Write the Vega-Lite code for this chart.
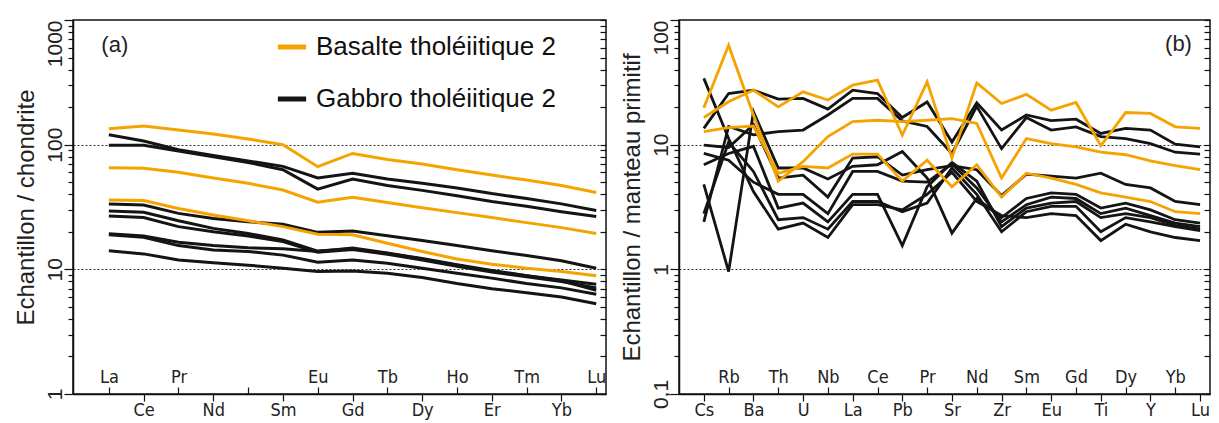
{
  "$schema": "https://vega.github.io/schema/vega-lite/v6.json",
  "background": "white",
  "padding": {"left": 13, "top": 18, "right": 2, "bottom": 2},
  "config": {
    "view": {"stroke": "#111", "strokeWidth": 1.5},
    "font": "Liberation Sans",
    "legend": {
      "orient": "none", "legendX": 202, "legendY": 10,
      "symbolType": "stroke", "symbolStrokeWidth": 5, "symbolSize": 800,
      "labelFontSize": 26, "labelColor": "#111", "rowPadding": 22, "labelOffset": 7, "labelLimit": 0
    }
  },
  "datasets": {
    "ree": [
      {"g":"B1","t":"Gabbro","i":0,"v":120},{"g":"B1","t":"Gabbro","i":1,"v":107},{"g":"B1","t":"Gabbro","i":2,"v":91},{"g":"B1","t":"Gabbro","i":3,"v":82},{"g":"B1","t":"Gabbro","i":4,"v":74},{"g":"B1","t":"Gabbro","i":5,"v":67},{"g":"B1","t":"Gabbro","i":6,"v":54},{"g":"B1","t":"Gabbro","i":7,"v":59},{"g":"B1","t":"Gabbro","i":8,"v":53},{"g":"B1","t":"Gabbro","i":9,"v":49},{"g":"B1","t":"Gabbro","i":10,"v":45},{"g":"B1","t":"Gabbro","i":11,"v":40.5},{"g":"B1","t":"Gabbro","i":12,"v":37},{"g":"B1","t":"Gabbro","i":13,"v":33.5},{"g":"B1","t":"Gabbro","i":14,"v":29.6},
      {"g":"B2","t":"Gabbro","i":0,"v":99},{"g":"B2","t":"Gabbro","i":1,"v":99},{"g":"B2","t":"Gabbro","i":2,"v":89},{"g":"B2","t":"Gabbro","i":3,"v":80},{"g":"B2","t":"Gabbro","i":4,"v":72},{"g":"B2","t":"Gabbro","i":5,"v":63},{"g":"B2","t":"Gabbro","i":6,"v":44},{"g":"B2","t":"Gabbro","i":7,"v":53},{"g":"B2","t":"Gabbro","i":8,"v":47},{"g":"B2","t":"Gabbro","i":9,"v":43},{"g":"B2","t":"Gabbro","i":10,"v":39},{"g":"B2","t":"Gabbro","i":11,"v":35},{"g":"B2","t":"Gabbro","i":12,"v":32},{"g":"B2","t":"Gabbro","i":13,"v":29},{"g":"B2","t":"Gabbro","i":14,"v":26.5},
      {"g":"B3","t":"Gabbro","i":0,"v":33.4},{"g":"B3","t":"Gabbro","i":1,"v":32.8},{"g":"B3","t":"Gabbro","i":2,"v":28.1},{"g":"B3","t":"Gabbro","i":3,"v":25.6},{"g":"B3","t":"Gabbro","i":4,"v":24.1},{"g":"B3","t":"Gabbro","i":5,"v":23},{"g":"B3","t":"Gabbro","i":6,"v":19.8},{"g":"B3","t":"Gabbro","i":7,"v":20.3},{"g":"B3","t":"Gabbro","i":8,"v":18.6},{"g":"B3","t":"Gabbro","i":9,"v":17},{"g":"B3","t":"Gabbro","i":10,"v":15.5},{"g":"B3","t":"Gabbro","i":11,"v":14.1},{"g":"B3","t":"Gabbro","i":12,"v":12.9},{"g":"B3","t":"Gabbro","i":13,"v":11.7},{"g":"B3","t":"Gabbro","i":14,"v":10.2},
      {"g":"B4","t":"Gabbro","i":0,"v":29.4},{"g":"B4","t":"Gabbro","i":1,"v":28.7},{"g":"B4","t":"Gabbro","i":2,"v":24.5},{"g":"B4","t":"Gabbro","i":3,"v":21.3},{"g":"B4","t":"Gabbro","i":4,"v":19.4},{"g":"B4","t":"Gabbro","i":5,"v":17.2},{"g":"B4","t":"Gabbro","i":6,"v":14},{"g":"B4","t":"Gabbro","i":7,"v":14.6},{"g":"B4","t":"Gabbro","i":8,"v":13.4},{"g":"B4","t":"Gabbro","i":9,"v":12.1},{"g":"B4","t":"Gabbro","i":10,"v":10.8},{"g":"B4","t":"Gabbro","i":11,"v":9.7},{"g":"B4","t":"Gabbro","i":12,"v":8.9},{"g":"B4","t":"Gabbro","i":13,"v":8.2},{"g":"B4","t":"Gabbro","i":14,"v":7.6},
      {"g":"B5","t":"Gabbro","i":0,"v":26.8},{"g":"B5","t":"Gabbro","i":1,"v":26},{"g":"B5","t":"Gabbro","i":2,"v":22},{"g":"B5","t":"Gabbro","i":3,"v":20},{"g":"B5","t":"Gabbro","i":4,"v":18.5},{"g":"B5","t":"Gabbro","i":5,"v":16.7},{"g":"B5","t":"Gabbro","i":6,"v":13.7},{"g":"B5","t":"Gabbro","i":7,"v":14.4},{"g":"B5","t":"Gabbro","i":8,"v":13.2},{"g":"B5","t":"Gabbro","i":9,"v":11.9},{"g":"B5","t":"Gabbro","i":10,"v":10.6},{"g":"B5","t":"Gabbro","i":11,"v":9.5},{"g":"B5","t":"Gabbro","i":12,"v":8.7},{"g":"B5","t":"Gabbro","i":13,"v":8},{"g":"B5","t":"Gabbro","i":14,"v":7.1},
      {"g":"B6","t":"Gabbro","i":0,"v":19.3},{"g":"B6","t":"Gabbro","i":1,"v":18.5},{"g":"B6","t":"Gabbro","i":2,"v":16.5},{"g":"B6","t":"Gabbro","i":3,"v":15.5},{"g":"B6","t":"Gabbro","i":4,"v":14.9},{"g":"B6","t":"Gabbro","i":5,"v":14.6},{"g":"B6","t":"Gabbro","i":6,"v":13.9},{"g":"B6","t":"Gabbro","i":7,"v":14.8},{"g":"B6","t":"Gabbro","i":8,"v":13.5},{"g":"B6","t":"Gabbro","i":9,"v":12.2},{"g":"B6","t":"Gabbro","i":10,"v":10.9},{"g":"B6","t":"Gabbro","i":11,"v":9.8},{"g":"B6","t":"Gabbro","i":12,"v":8.9},{"g":"B6","t":"Gabbro","i":13,"v":8.1},{"g":"B6","t":"Gabbro","i":14,"v":6.8},
      {"g":"B7","t":"Gabbro","i":0,"v":18.9},{"g":"B7","t":"Gabbro","i":1,"v":18.1},{"g":"B7","t":"Gabbro","i":2,"v":15.5},{"g":"B7","t":"Gabbro","i":3,"v":14.3},{"g":"B7","t":"Gabbro","i":4,"v":13.9},{"g":"B7","t":"Gabbro","i":5,"v":13},{"g":"B7","t":"Gabbro","i":6,"v":11.4},{"g":"B7","t":"Gabbro","i":7,"v":11.9},{"g":"B7","t":"Gabbro","i":8,"v":11.2},{"g":"B7","t":"Gabbro","i":9,"v":10.2},{"g":"B7","t":"Gabbro","i":10,"v":9.3},{"g":"B7","t":"Gabbro","i":11,"v":8.5},{"g":"B7","t":"Gabbro","i":12,"v":7.7},{"g":"B7","t":"Gabbro","i":13,"v":7.1},{"g":"B7","t":"Gabbro","i":14,"v":6.3},
      {"g":"B8","t":"Gabbro","i":0,"v":14.1},{"g":"B8","t":"Gabbro","i":1,"v":13.3},{"g":"B8","t":"Gabbro","i":2,"v":11.9},{"g":"B8","t":"Gabbro","i":3,"v":11.3},{"g":"B8","t":"Gabbro","i":4,"v":10.8},{"g":"B8","t":"Gabbro","i":5,"v":10.2},{"g":"B8","t":"Gabbro","i":6,"v":9.6},{"g":"B8","t":"Gabbro","i":7,"v":9.7},{"g":"B8","t":"Gabbro","i":8,"v":9.3},{"g":"B8","t":"Gabbro","i":9,"v":8.6},{"g":"B8","t":"Gabbro","i":10,"v":7.7},{"g":"B8","t":"Gabbro","i":11,"v":7},{"g":"B8","t":"Gabbro","i":12,"v":6.5},{"g":"B8","t":"Gabbro","i":13,"v":6},{"g":"B8","t":"Gabbro","i":14,"v":5.3},
      {"g":"O1","t":"Basalte","i":0,"v":134},{"g":"O1","t":"Basalte","i":1,"v":141},{"g":"O1","t":"Basalte","i":2,"v":131},{"g":"O1","t":"Basalte","i":3,"v":122},{"g":"O1","t":"Basalte","i":4,"v":111},{"g":"O1","t":"Basalte","i":5,"v":100},{"g":"O1","t":"Basalte","i":6,"v":66.6},{"g":"O1","t":"Basalte","i":7,"v":85},{"g":"O1","t":"Basalte","i":8,"v":76},{"g":"O1","t":"Basalte","i":9,"v":70},{"g":"O1","t":"Basalte","i":10,"v":63},{"g":"O1","t":"Basalte","i":11,"v":57},{"g":"O1","t":"Basalte","i":12,"v":52},{"g":"O1","t":"Basalte","i":13,"v":47},{"g":"O1","t":"Basalte","i":14,"v":41.4},
      {"g":"O2","t":"Basalte","i":0,"v":65.4},{"g":"O2","t":"Basalte","i":1,"v":64.6},{"g":"O2","t":"Basalte","i":2,"v":60},{"g":"O2","t":"Basalte","i":3,"v":54},{"g":"O2","t":"Basalte","i":4,"v":49},{"g":"O2","t":"Basalte","i":5,"v":43.3},{"g":"O2","t":"Basalte","i":6,"v":34.5},{"g":"O2","t":"Basalte","i":7,"v":37.8},{"g":"O2","t":"Basalte","i":8,"v":34.3},{"g":"O2","t":"Basalte","i":9,"v":31.2},{"g":"O2","t":"Basalte","i":10,"v":28.5},{"g":"O2","t":"Basalte","i":11,"v":26},{"g":"O2","t":"Basalte","i":12,"v":23.7},{"g":"O2","t":"Basalte","i":13,"v":21.6},{"g":"O2","t":"Basalte","i":14,"v":19.4},
      {"g":"O3","t":"Basalte","i":0,"v":36},{"g":"O3","t":"Basalte","i":1,"v":35.6},{"g":"O3","t":"Basalte","i":2,"v":30.8},{"g":"O3","t":"Basalte","i":3,"v":27.3},{"g":"O3","t":"Basalte","i":4,"v":24.5},{"g":"O3","t":"Basalte","i":5,"v":22},{"g":"O3","t":"Basalte","i":6,"v":19.1},{"g":"O3","t":"Basalte","i":7,"v":18.9},{"g":"O3","t":"Basalte","i":8,"v":16.2},{"g":"O3","t":"Basalte","i":9,"v":13.9},{"g":"O3","t":"Basalte","i":10,"v":12.1},{"g":"O3","t":"Basalte","i":11,"v":11},{"g":"O3","t":"Basalte","i":12,"v":10.2},{"g":"O3","t":"Basalte","i":13,"v":9.6},{"g":"O3","t":"Basalte","i":14,"v":8.9}
    ],
    "spider": [
      {"g":"R1","t":"Gabbro","i":0,"v":13.5},{"g":"R1","t":"Gabbro","i":1,"v":25.7},{"g":"R1","t":"Gabbro","i":2,"v":27.4},{"g":"R1","t":"Gabbro","i":3,"v":23.2},{"g":"R1","t":"Gabbro","i":4,"v":23.5},{"g":"R1","t":"Gabbro","i":5,"v":19.3},{"g":"R1","t":"Gabbro","i":6,"v":27.4},{"g":"R1","t":"Gabbro","i":7,"v":25.7},{"g":"R1","t":"Gabbro","i":8,"v":16.5},{"g":"R1","t":"Gabbro","i":9,"v":22},{"g":"R1","t":"Gabbro","i":10,"v":10.5},{"g":"R1","t":"Gabbro","i":11,"v":21.7},{"g":"R1","t":"Gabbro","i":12,"v":13.1},{"g":"R1","t":"Gabbro","i":13,"v":17.3},{"g":"R1","t":"Gabbro","i":14,"v":15.6},{"g":"R1","t":"Gabbro","i":15,"v":16},{"g":"R1","t":"Gabbro","i":16,"v":12.3},{"g":"R1","t":"Gabbro","i":17,"v":13.5},{"g":"R1","t":"Gabbro","i":18,"v":13.1},{"g":"R1","t":"Gabbro","i":19,"v":10.1},{"g":"R1","t":"Gabbro","i":20,"v":9.6},
      {"g":"R2","t":"Gabbro","i":0,"v":2.4},{"g":"R2","t":"Gabbro","i":1,"v":14},{"g":"R2","t":"Gabbro","i":2,"v":12},{"g":"R2","t":"Gabbro","i":3,"v":12.7},{"g":"R2","t":"Gabbro","i":4,"v":13.1},{"g":"R2","t":"Gabbro","i":5,"v":17.3},{"g":"R2","t":"Gabbro","i":6,"v":23.5},{"g":"R2","t":"Gabbro","i":7,"v":23.5},{"g":"R2","t":"Gabbro","i":8,"v":15.5},{"g":"R2","t":"Gabbro","i":9,"v":14},{"g":"R2","t":"Gabbro","i":10,"v":8.5},{"g":"R2","t":"Gabbro","i":11,"v":20.3},{"g":"R2","t":"Gabbro","i":12,"v":9.3},{"g":"R2","t":"Gabbro","i":13,"v":16.5},{"g":"R2","t":"Gabbro","i":14,"v":13.1},{"g":"R2","t":"Gabbro","i":15,"v":13.9},{"g":"R2","t":"Gabbro","i":16,"v":11.6},{"g":"R2","t":"Gabbro","i":17,"v":11.2},{"g":"R2","t":"Gabbro","i":18,"v":10.2},{"g":"R2","t":"Gabbro","i":19,"v":8.7},{"g":"R2","t":"Gabbro","i":20,"v":8.4},
      {"g":"R3","t":"Gabbro","i":0,"v":9.9},{"g":"R3","t":"Gabbro","i":1,"v":9.5},{"g":"R3","t":"Gabbro","i":2,"v":14.5},{"g":"R3","t":"Gabbro","i":3,"v":5.4},{"g":"R3","t":"Gabbro","i":4,"v":5.7},{"g":"R3","t":"Gabbro","i":5,"v":3.8},{"g":"R3","t":"Gabbro","i":6,"v":7.8},{"g":"R3","t":"Gabbro","i":7,"v":8},{"g":"R3","t":"Gabbro","i":8,"v":5.7},{"g":"R3","t":"Gabbro","i":9,"v":6.3},{"g":"R3","t":"Gabbro","i":10,"v":6.8},{"g":"R3","t":"Gabbro","i":11,"v":6.3},{"g":"R3","t":"Gabbro","i":12,"v":3.9},{"g":"R3","t":"Gabbro","i":13,"v":5.8},{"g":"R3","t":"Gabbro","i":14,"v":5.6},{"g":"R3","t":"Gabbro","i":15,"v":5.4},{"g":"R3","t":"Gabbro","i":16,"v":5.9},{"g":"R3","t":"Gabbro","i":17,"v":4.8},{"g":"R3","t":"Gabbro","i":18,"v":4.5},{"g":"R3","t":"Gabbro","i":19,"v":3.5},{"g":"R3","t":"Gabbro","i":20,"v":3.3},
      {"g":"R4","t":"Gabbro","i":0,"v":4.8},{"g":"R4","t":"Gabbro","i":1,"v":0.96},{"g":"R4","t":"Gabbro","i":2,"v":18.4},{"g":"R4","t":"Gabbro","i":3,"v":6.5},{"g":"R4","t":"Gabbro","i":4,"v":6.5},{"g":"R4","t":"Gabbro","i":5,"v":5.3},{"g":"R4","t":"Gabbro","i":6,"v":6.7},{"g":"R4","t":"Gabbro","i":7,"v":6.9},{"g":"R4","t":"Gabbro","i":8,"v":8.8},{"g":"R4","t":"Gabbro","i":9,"v":5.4},{"g":"R4","t":"Gabbro","i":10,"v":1.95},{"g":"R4","t":"Gabbro","i":11,"v":3.7},{"g":"R4","t":"Gabbro","i":12,"v":2.6},{"g":"R4","t":"Gabbro","i":13,"v":3.7},{"g":"R4","t":"Gabbro","i":14,"v":4.1},{"g":"R4","t":"Gabbro","i":15,"v":4},{"g":"R4","t":"Gabbro","i":16,"v":3.1},{"g":"R4","t":"Gabbro","i":17,"v":3.4},{"g":"R4","t":"Gabbro","i":18,"v":3},{"g":"R4","t":"Gabbro","i":19,"v":2.5},{"g":"R4","t":"Gabbro","i":20,"v":2.35},
      {"g":"R5","t":"Gabbro","i":0,"v":8.5},{"g":"R5","t":"Gabbro","i":1,"v":7.5},{"g":"R5","t":"Gabbro","i":2,"v":5},{"g":"R5","t":"Gabbro","i":3,"v":4},{"g":"R5","t":"Gabbro","i":4,"v":4},{"g":"R5","t":"Gabbro","i":5,"v":2.8},{"g":"R5","t":"Gabbro","i":6,"v":6.1},{"g":"R5","t":"Gabbro","i":7,"v":6.1},{"g":"R5","t":"Gabbro","i":8,"v":5.1},{"g":"R5","t":"Gabbro","i":9,"v":5},{"g":"R5","t":"Gabbro","i":10,"v":7},{"g":"R5","t":"Gabbro","i":11,"v":4.5},{"g":"R5","t":"Gabbro","i":12,"v":2.4},{"g":"R5","t":"Gabbro","i":13,"v":3.3},{"g":"R5","t":"Gabbro","i":14,"v":3.8},{"g":"R5","t":"Gabbro","i":15,"v":3.7},{"g":"R5","t":"Gabbro","i":16,"v":2.8},{"g":"R5","t":"Gabbro","i":17,"v":3.1},{"g":"R5","t":"Gabbro","i":18,"v":2.7},{"g":"R5","t":"Gabbro","i":19,"v":2.35},{"g":"R5","t":"Gabbro","i":20,"v":2.2},
      {"g":"R6","t":"Gabbro","i":0,"v":6.9},{"g":"R6","t":"Gabbro","i":1,"v":8.5},{"g":"R6","t":"Gabbro","i":2,"v":9.7},{"g":"R6","t":"Gabbro","i":3,"v":3.1},{"g":"R6","t":"Gabbro","i":4,"v":3.4},{"g":"R6","t":"Gabbro","i":5,"v":2.4},{"g":"R6","t":"Gabbro","i":6,"v":4},{"g":"R6","t":"Gabbro","i":7,"v":4},{"g":"R6","t":"Gabbro","i":8,"v":1.55},{"g":"R6","t":"Gabbro","i":9,"v":4.6},{"g":"R6","t":"Gabbro","i":10,"v":7.2},{"g":"R6","t":"Gabbro","i":11,"v":5.1},{"g":"R6","t":"Gabbro","i":12,"v":2.2},{"g":"R6","t":"Gabbro","i":13,"v":3.1},{"g":"R6","t":"Gabbro","i":14,"v":3.4},{"g":"R6","t":"Gabbro","i":15,"v":3.5},{"g":"R6","t":"Gabbro","i":16,"v":2.6},{"g":"R6","t":"Gabbro","i":17,"v":2.8},{"g":"R6","t":"Gabbro","i":18,"v":2.6},{"g":"R6","t":"Gabbro","i":19,"v":2.25},{"g":"R6","t":"Gabbro","i":20,"v":2.1},
      {"g":"R7","t":"Gabbro","i":0,"v":2.8},{"g":"R7","t":"Gabbro","i":1,"v":10.5},{"g":"R7","t":"Gabbro","i":2,"v":6.1},{"g":"R7","t":"Gabbro","i":3,"v":2.5},{"g":"R7","t":"Gabbro","i":4,"v":2.6},{"g":"R7","t":"Gabbro","i":5,"v":2.1},{"g":"R7","t":"Gabbro","i":6,"v":3.5},{"g":"R7","t":"Gabbro","i":7,"v":3.5},{"g":"R7","t":"Gabbro","i":8,"v":2.9},{"g":"R7","t":"Gabbro","i":9,"v":3.4},{"g":"R7","t":"Gabbro","i":10,"v":6.5},{"g":"R7","t":"Gabbro","i":11,"v":4},{"g":"R7","t":"Gabbro","i":12,"v":2},{"g":"R7","t":"Gabbro","i":13,"v":2.9},{"g":"R7","t":"Gabbro","i":14,"v":3.2},{"g":"R7","t":"Gabbro","i":15,"v":3.2},{"g":"R7","t":"Gabbro","i":16,"v":2},{"g":"R7","t":"Gabbro","i":17,"v":2.6},{"g":"R7","t":"Gabbro","i":18,"v":2.4},{"g":"R7","t":"Gabbro","i":19,"v":2.2},{"g":"R7","t":"Gabbro","i":20,"v":2.04},
      {"g":"R8","t":"Gabbro","i":0,"v":34},{"g":"R8","t":"Gabbro","i":1,"v":11.2},{"g":"R8","t":"Gabbro","i":2,"v":4.2},{"g":"R8","t":"Gabbro","i":3,"v":2.1},{"g":"R8","t":"Gabbro","i":4,"v":2.35},{"g":"R8","t":"Gabbro","i":5,"v":1.8},{"g":"R8","t":"Gabbro","i":6,"v":3.3},{"g":"R8","t":"Gabbro","i":7,"v":3.3},{"g":"R8","t":"Gabbro","i":8,"v":3},{"g":"R8","t":"Gabbro","i":9,"v":4},{"g":"R8","t":"Gabbro","i":10,"v":6},{"g":"R8","t":"Gabbro","i":11,"v":3.5},{"g":"R8","t":"Gabbro","i":12,"v":2.7},{"g":"R8","t":"Gabbro","i":13,"v":2.6},{"g":"R8","t":"Gabbro","i":14,"v":2.8},{"g":"R8","t":"Gabbro","i":15,"v":2.7},{"g":"R8","t":"Gabbro","i":16,"v":1.7},{"g":"R8","t":"Gabbro","i":17,"v":2.3},{"g":"R8","t":"Gabbro","i":18,"v":2},{"g":"R8","t":"Gabbro","i":19,"v":1.8},{"g":"R8","t":"Gabbro","i":20,"v":1.7},
      {"g":"OA","t":"Basalte","i":0,"v":19.8},{"g":"OA","t":"Basalte","i":1,"v":62.7},{"g":"OA","t":"Basalte","i":2,"v":17.3},{"g":"OA","t":"Basalte","i":3,"v":5.1},{"g":"OA","t":"Basalte","i":4,"v":7.3},{"g":"OA","t":"Basalte","i":5,"v":11.6},{"g":"OA","t":"Basalte","i":6,"v":15.3},{"g":"OA","t":"Basalte","i":7,"v":15.7},{"g":"OA","t":"Basalte","i":8,"v":15.3},{"g":"OA","t":"Basalte","i":9,"v":15.7},{"g":"OA","t":"Basalte","i":10,"v":16.2},{"g":"OA","t":"Basalte","i":11,"v":14.8},{"g":"OA","t":"Basalte","i":12,"v":5.4},{"g":"OA","t":"Basalte","i":13,"v":11.2},{"g":"OA","t":"Basalte","i":14,"v":10.2},{"g":"OA","t":"Basalte","i":15,"v":9.6},{"g":"OA","t":"Basalte","i":16,"v":8.7},{"g":"OA","t":"Basalte","i":17,"v":8.3},{"g":"OA","t":"Basalte","i":18,"v":7.4},{"g":"OA","t":"Basalte","i":19,"v":6.8},{"g":"OA","t":"Basalte","i":20,"v":6.3},
      {"g":"OB","t":"Basalte","i":0,"v":16.5},{"g":"OB","t":"Basalte","i":1,"v":22.1},{"g":"OB","t":"Basalte","i":2,"v":27.4},{"g":"OB","t":"Basalte","i":3,"v":20.1},{"g":"OB","t":"Basalte","i":4,"v":26.5},{"g":"OB","t":"Basalte","i":5,"v":22.8},{"g":"OB","t":"Basalte","i":6,"v":30},{"g":"OB","t":"Basalte","i":7,"v":32.9},{"g":"OB","t":"Basalte","i":8,"v":11.9},{"g":"OB","t":"Basalte","i":9,"v":31.9},{"g":"OB","t":"Basalte","i":10,"v":7.8},{"g":"OB","t":"Basalte","i":11,"v":31.3},{"g":"OB","t":"Basalte","i":12,"v":21.4},{"g":"OB","t":"Basalte","i":13,"v":25.3},{"g":"OB","t":"Basalte","i":14,"v":18.9},{"g":"OB","t":"Basalte","i":15,"v":21.8},{"g":"OB","t":"Basalte","i":16,"v":9.8},{"g":"OB","t":"Basalte","i":17,"v":18.1},{"g":"OB","t":"Basalte","i":18,"v":17.8},{"g":"OB","t":"Basalte","i":19,"v":13.9},{"g":"OB","t":"Basalte","i":20,"v":13.5},
      {"g":"OC","t":"Basalte","i":0,"v":12.7},{"g":"OC","t":"Basalte","i":1,"v":13.7},{"g":"OC","t":"Basalte","i":2,"v":14.1},{"g":"OC","t":"Basalte","i":3,"v":5.9},{"g":"OC","t":"Basalte","i":4,"v":6.7},{"g":"OC","t":"Basalte","i":5,"v":6.5},{"g":"OC","t":"Basalte","i":6,"v":8.4},{"g":"OC","t":"Basalte","i":7,"v":8.4},{"g":"OC","t":"Basalte","i":8,"v":5.1},{"g":"OC","t":"Basalte","i":9,"v":7.5},{"g":"OC","t":"Basalte","i":10,"v":4.6},{"g":"OC","t":"Basalte","i":11,"v":6.9},{"g":"OC","t":"Basalte","i":12,"v":3.8},{"g":"OC","t":"Basalte","i":13,"v":5.9},{"g":"OC","t":"Basalte","i":14,"v":5.4},{"g":"OC","t":"Basalte","i":15,"v":4.8},{"g":"OC","t":"Basalte","i":16,"v":4.1},{"g":"OC","t":"Basalte","i":17,"v":3.8},{"g":"OC","t":"Basalte","i":18,"v":3.5},{"g":"OC","t":"Basalte","i":19,"v":2.9},{"g":"OC","t":"Basalte","i":20,"v":2.8}
    ]
  },
  "spacing": 11,
  "hconcat": [
    {
      "width": 533,
      "height": 374,
      "resolve": {"axis": {"x": "independent", "y": "independent"}},
      "layer": [
        {
          "data": {"name": "ree"},
          "mark": {"type": "line", "strokeWidth": 3},
          "encoding": {
            "x": {"field": "i", "type": "quantitative",
              "scale": {"domain": [-1.03, 14.28], "nice": false, "zero": false},
              "axis": {"orient": "bottom", "values": [1,3,5,7,9,11,13],
                "labelExpr": "['La','Ce','Pr','Nd','','Sm','Eu','Gd','Tb','Dy','Ho','Er','Tm','Yb','Lu'][datum.value]",
                "tickSize": 7, "labelBaseline": "top", "labelPadding": 0,
                "labelFont": "DejaVu Sans Condensed, Liberation Sans, sans-serif", "labelFontSize": 18, "labelColor": "#222", "labelAngle": 0,
                "labelOverlap": false, "labelFlush": false, "labelBound": false, "grid": false, "title": null,
                "domainColor": "#111", "domainWidth": 1.5, "tickColor": "#111", "tickWidth": 1.2}},
            "y": {"field": "v", "type": "quantitative",
              "scale": {"type": "log", "domain": [1, 1000], "nice": false},
              "axis": {"orient": "left", "values": [1, 10, 100, 1000],
                "labelExpr": "format(datum.value, 'd')",
                "tickSize": 9, "labelAngle": 270,
                "labelAlign": {"condition": {"test": "datum.value >= 1000", "value": "right"}, "value": "center"},
                "labelBaseline": "alphabetic", "labelPadding": 3,
                "labelFontSize": 21, "labelColor": "#222", "labelOverlap": false, "labelFlush": false, "labelBound": false,
                "grid": true, "gridDash": [2, 2], "gridColor": "#333", "gridWidth": 1,
                "gridOpacity": {"condition": {"test": "datum.value == 10 || datum.value == 100", "value": 1}, "value": 0},
                "title": "Echantillon / chondrite", "titleFontSize": 24, "titleFontWeight": "normal", "titleColor": "#222", "titlePadding": 6,
                "domainColor": "#111", "domainWidth": 1.5, "tickColor": "#111", "tickWidth": 1.2}},
            "color": {"field": "t", "type": "nominal", "title": null,
              "scale": {"domain": ["Basalte", "Gabbro"], "range": ["#F5A300", "#141414"]},
              "legend": {"labelExpr": "datum.label + ' tholéiitique 2'"}},
            "detail": {"field": "g"}
          }
        },
        {
          "data": {"name": "ree"},
          "mark": {"type": "point", "opacity": 0},
          "encoding": {
            "x": {"field": "i", "type": "quantitative",
              "axis": {"orient": "bottom", "values": [0,2,4,6,8,10,12,14],
                "labelExpr": "['La','Ce','Pr','Nd','','Sm','Eu','Gd','Tb','Dy','Ho','Er','Tm','Yb','Lu'][datum.value]",
                "tickSize": -7, "labelBaseline": "alphabetic", "labelPadding": -5,
                "labelFont": "DejaVu Sans Condensed, Liberation Sans, sans-serif", "labelFontSize": 18, "labelColor": "#222", "labelAngle": 0,
                "labelOverlap": false, "labelFlush": false, "labelBound": false, "grid": false, "title": null,
                "domain": false, "tickColor": "#111", "tickWidth": 1.2}},
            "y": {"field": "v", "type": "quantitative",
              "axis": {"orient": "left",
                "values": [2,3,4,5,6,7,8,9,20,30,40,50,60,70,80,90,200,300,400,500,600,700,800,900],
                "labels": false, "domain": false, "grid": false, "title": null,
                "tickSize": 5, "tickColor": "#111", "tickWidth": 1.2}}
          }
        },
        {
          "data": {"name": "ree"},
          "mark": {"type": "point", "opacity": 0},
          "encoding": {
            "x": {"field": "i", "type": "quantitative", "axis": null},
            "y": {"field": "v", "type": "quantitative",
              "axis": {"orient": "right",
                "values": [1,2,3,4,5,6,7,8,9,10,20,30,40,50,60,70,80,90,100,200,300,400,500,600,700,800,900,1000],
                "labels": false, "domain": false, "grid": false, "title": null,
                "tickSize": -6, "tickColor": "#111", "tickWidth": 1.2}}
          }
        },
        {
          "data": {"values": [{"lab": "(a)"}]},
          "mark": {"type": "text", "fontSize": 22, "color": "#222", "align": "center", "baseline": "middle"},
          "encoding": {
            "text": {"field": "lab"},
            "x": {"datum": 0.17, "type": "quantitative", "axis": null},
            "y": {"datum": 634, "type": "quantitative", "axis": null}
          }
        }
      ]
    },
    {
      "width": 531,
      "height": 374,
      "resolve": {"axis": {"x": "independent", "y": "independent"}},
      "layer": [
        {
          "data": {"name": "spider"},
          "mark": {"type": "line", "strokeWidth": 2.8},
          "encoding": {
            "x": {"field": "i", "type": "quantitative",
              "scale": {"domain": [-1.0, 20.4], "nice": false, "zero": false},
              "axis": {"orient": "bottom", "values": [0,2,4,6,8,10,12,14,16,18,20],
                "labelExpr": "['Cs','Rb','Ba','Th','U','Nb','La','Ce','Pb','Pr','Sr','Nd','Zr','Sm','Eu','Gd','Ti','Dy','Y','Yb','Lu'][datum.value]",
                "tickSize": 7, "labelBaseline": "top", "labelPadding": 0,
                "labelFont": "DejaVu Sans Condensed, Liberation Sans, sans-serif", "labelFontSize": 18, "labelColor": "#222", "labelAngle": 0,
                "labelOverlap": false, "labelFlush": false, "labelBound": false, "grid": false, "title": null,
                "domainColor": "#111", "domainWidth": 1.5, "tickColor": "#111", "tickWidth": 1.2}},
            "y": {"field": "v", "type": "quantitative",
              "scale": {"type": "log", "domain": [0.1, 100], "nice": false},
              "axis": {"orient": "left", "values": [0.1, 1, 10, 100],
                "labelExpr": "datum.value == 0.1 ? '0,1' : format(datum.value, 'd')",
                "tickSize": 9, "labelAngle": 270,
                "labelAlign": {"condition": {"test": "datum.value >= 100", "value": "right"}, "value": "center"},
                "labelBaseline": "alphabetic", "labelPadding": 3,
                "labelFontSize": 21, "labelColor": "#222", "labelOverlap": false, "labelFlush": false, "labelBound": false,
                "grid": true, "gridDash": [2, 2], "gridColor": "#333", "gridWidth": 1,
                "gridOpacity": {"condition": {"test": "datum.value == 1 || datum.value == 10", "value": 1}, "value": 0},
                "title": "Echantillon / manteau primitif", "titleFontSize": 24, "titleFontWeight": "normal", "titleColor": "#222", "titlePadding": 6,
                "domainColor": "#111", "domainWidth": 1.5, "tickColor": "#111", "tickWidth": 1.2}},
            "color": {"field": "t", "type": "nominal", "title": null,
              "scale": {"domain": ["Basalte", "Gabbro"], "range": ["#F5A300", "#141414"]},
              "legend": {"labelExpr": "datum.label + ' tholéiitique 2'"}},
            "detail": {"field": "g"}
          }
        },
        {
          "data": {"name": "spider"},
          "mark": {"type": "point", "opacity": 0},
          "encoding": {
            "x": {"field": "i", "type": "quantitative",
              "axis": {"orient": "bottom", "values": [1,3,5,7,9,11,13,15,17,19],
                "labelExpr": "['Cs','Rb','Ba','Th','U','Nb','La','Ce','Pb','Pr','Sr','Nd','Zr','Sm','Eu','Gd','Ti','Dy','Y','Yb','Lu'][datum.value]",
                "tickSize": -7, "labelBaseline": "alphabetic", "labelPadding": -5,
                "labelFont": "DejaVu Sans Condensed, Liberation Sans, sans-serif", "labelFontSize": 18, "labelColor": "#222", "labelAngle": 0,
                "labelOverlap": false, "labelFlush": false, "labelBound": false, "grid": false, "title": null,
                "domain": false, "tickColor": "#111", "tickWidth": 1.2}},
            "y": {"field": "v", "type": "quantitative",
              "axis": {"orient": "left",
                "values": [0.2,0.3,0.4,0.5,0.6,0.7,0.8,0.9,2,3,4,5,6,7,8,9,20,30,40,50,60,70,80,90],
                "labels": false, "domain": false, "grid": false, "title": null,
                "tickSize": 5, "tickColor": "#111", "tickWidth": 1.2}}
          }
        },
        {
          "data": {"name": "spider"},
          "mark": {"type": "point", "opacity": 0},
          "encoding": {
            "x": {"field": "i", "type": "quantitative", "axis": null},
            "y": {"field": "v", "type": "quantitative",
              "axis": {"orient": "right",
                "values": [0.1,0.2,0.3,0.4,0.5,0.6,0.7,0.8,0.9,1,2,3,4,5,6,7,8,9,10,20,30,40,50,60,70,80,90,100],
                "labels": false, "domain": false, "grid": false, "title": null,
                "tickSize": -6, "tickColor": "#111", "tickWidth": 1.2}}
          }
        },
        {
          "data": {"values": [{"lab": "(b)"}]},
          "mark": {"type": "text", "fontSize": 22, "color": "#222", "align": "center", "baseline": "middle"},
          "encoding": {
            "text": {"field": "lab"},
            "x": {"datum": 19.13, "type": "quantitative", "axis": null},
            "y": {"datum": 63.7, "type": "quantitative", "axis": null}
          }
        }
      ]
    }
  ]
}
